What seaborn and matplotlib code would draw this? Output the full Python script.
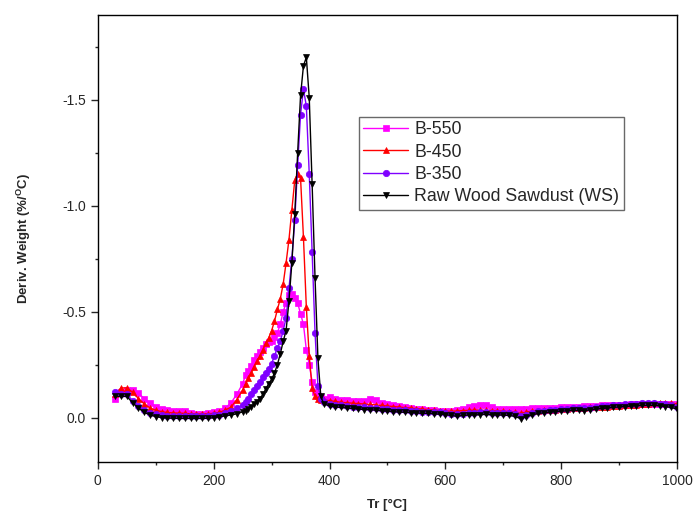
import numpy as np
import pandas as pd
import matplotlib
matplotlib.use("Agg")
import matplotlib.pyplot as plt
import seaborn as sns
from matplotlib.ticker import MultipleLocator

# Temperature grid (°C): coarse on the flat parts, finer around the peak
temp_low = [30, 40, 50, 60, 70, 80, 90, 100, 110, 120, 130, 140, 150, 160, 170,
            180, 190, 200, 210, 220, 230, 240, 250]
temp_mid = [255, 260, 265, 270, 275, 280, 285, 290, 295, 300, 305, 310, 315, 320,
            325, 330, 335, 340, 345, 350, 355, 360, 365, 370, 375, 380, 385, 390]
temp_high = [400, 410, 420, 430, 440, 450, 460, 470, 480, 490, 500, 510, 520, 530,
             540, 550, 560, 570, 580, 590, 600, 610, 620, 630, 640, 650, 660, 670,
             680, 690, 700, 710, 720, 730, 740, 750, 760, 770, 780, 790, 800, 810,
             820, 830, 840, 850, 860, 870, 880, 890, 900, 910, 920, 930, 940, 950,
             960, 970, 980, 990, 1000]
temperature = temp_low + temp_mid + temp_high

# DTG curves (%/°C)
b550 = [-0.09, -0.12, -0.13, -0.13, -0.115, -0.09, -0.07, -0.052, -0.042, -0.035,
        -0.032, -0.032, -0.03, -0.022, -0.017, -0.017, -0.02, -0.025, -0.032, -0.045,
        -0.07, -0.11, -0.16,
        -0.2, -0.22, -0.245, -0.27, -0.29, -0.31, -0.33, -0.345, -0.355, -0.36,
        -0.38, -0.4, -0.44, -0.5, -0.54, -0.58, -0.585, -0.565, -0.54, -0.49,
        -0.44, -0.32, -0.25, -0.17, -0.12, -0.1, -0.095, -0.09,
        -0.095, -0.09, -0.085, -0.082, -0.08, -0.078, -0.08, -0.088, -0.085, -0.07,
        -0.065, -0.06, -0.055, -0.05, -0.045, -0.042, -0.04, -0.038, -0.035, -0.032,
        -0.03, -0.032, -0.035, -0.04, -0.048, -0.055, -0.058, -0.058, -0.05, -0.042,
        -0.04, -0.04, -0.041, -0.04, -0.042, -0.043, -0.044, -0.045, -0.046, -0.047,
        -0.048, -0.05, -0.051, -0.052, -0.053, -0.054, -0.055, -0.057, -0.058, -0.059,
        -0.06, -0.061, -0.062, -0.063, -0.063, -0.064, -0.064, -0.065, -0.065, -0.064,
        -0.063]
b450 = [-0.11, -0.14, -0.14, -0.12, -0.09, -0.065, -0.045, -0.035, -0.028, -0.024,
        -0.022, -0.021, -0.02, -0.018, -0.017, -0.017, -0.018, -0.02, -0.025, -0.035,
        -0.05, -0.085, -0.13,
        -0.16, -0.185, -0.21, -0.24, -0.265, -0.29, -0.32, -0.35, -0.375, -0.41,
        -0.455, -0.51, -0.56, -0.63, -0.73, -0.84, -0.98, -1.12, -1.15, -1.13,
        -0.85, -0.52, -0.29, -0.14, -0.1, -0.09, -0.085, -0.082,
        -0.08, -0.076, -0.072, -0.07, -0.068, -0.066, -0.064, -0.062, -0.06, -0.057,
        -0.055, -0.052, -0.05, -0.047, -0.045, -0.042, -0.04, -0.038, -0.036, -0.033,
        -0.03, -0.03, -0.031, -0.033, -0.034, -0.035, -0.035, -0.034, -0.033, -0.031,
        -0.03, -0.028, -0.025, -0.02, -0.026, -0.03, -0.033, -0.035, -0.037, -0.038,
        -0.04, -0.042, -0.043, -0.045, -0.046, -0.048, -0.05, -0.051, -0.052, -0.054,
        -0.055, -0.057, -0.059, -0.061, -0.063, -0.065, -0.068, -0.07, -0.07, -0.068,
        -0.065]
b350 = [-0.12, -0.11, -0.11, -0.08, -0.055, -0.035, -0.022, -0.015, -0.01, -0.008,
        -0.007, -0.007, -0.007, -0.006, -0.006, -0.006, -0.007, -0.01, -0.014, -0.02,
        -0.03, -0.045, -0.06,
        -0.075, -0.09, -0.11, -0.13, -0.15, -0.17, -0.19, -0.21, -0.23, -0.255,
        -0.29, -0.33, -0.36, -0.41, -0.47, -0.61, -0.75, -0.93, -1.19, -1.43,
        -1.55, -1.47, -1.15, -0.78, -0.4, -0.15, -0.09, -0.075,
        -0.065, -0.06, -0.057, -0.054, -0.052, -0.05, -0.048, -0.046, -0.044, -0.042,
        -0.04, -0.038, -0.036, -0.034, -0.032, -0.03, -0.028, -0.027, -0.026, -0.024,
        -0.022, -0.018, -0.015, -0.018, -0.02, -0.022, -0.024, -0.025, -0.023, -0.022,
        -0.022, -0.02, -0.016, -0.008, -0.014, -0.022, -0.03, -0.032, -0.035, -0.038,
        -0.04, -0.042, -0.044, -0.044, -0.043, -0.046, -0.05, -0.053, -0.055, -0.058,
        -0.06, -0.062, -0.064, -0.066, -0.067, -0.068, -0.068, -0.066, -0.062, -0.058,
        -0.05]
raw_ws = [-0.1, -0.1, -0.1, -0.07, -0.045, -0.025, -0.012, -0.005, 0.0, 0.002,
          0.003, 0.004, 0.004, 0.004, 0.004, 0.004, 0.003, 0.001, -0.004, -0.008,
          -0.012, -0.018, -0.027,
          -0.03, -0.04, -0.05, -0.062, -0.075, -0.09, -0.11, -0.135, -0.16, -0.18,
          -0.21, -0.25, -0.3, -0.36, -0.41, -0.55, -0.73, -0.96, -1.25, -1.52,
          -1.66, -1.7, -1.51, -1.1, -0.66, -0.28, -0.1, -0.065,
          -0.055, -0.05, -0.048, -0.045, -0.043, -0.04, -0.038, -0.037, -0.035, -0.032,
          -0.03, -0.028, -0.026, -0.025, -0.023, -0.022, -0.02, -0.02, -0.018, -0.016,
          -0.014, -0.01, -0.006, -0.01, -0.012, -0.012, -0.014, -0.015, -0.013, -0.012,
          -0.012, -0.01, -0.006, 0.005, -0.004, -0.012, -0.02, -0.022, -0.025, -0.028,
          -0.03, -0.032, -0.034, -0.034, -0.033, -0.036, -0.04, -0.043, -0.045, -0.048,
          -0.05, -0.052, -0.054, -0.056, -0.057, -0.058, -0.058, -0.056, -0.052, -0.048,
          -0.04]

series_names = ["B-550", "B-450", "B-350", "Raw Wood Sawdust (WS)"]
series_values = [b550, b450, b350, raw_ws]
colors = ["#FF00FF", "#FF0000", "#7F00FF", "#000000"]
markers = ["s", "^", "o", "v"]

sns.set_style("ticks")
plt.rcParams["font.family"] = ["Liberation Sans", "DejaVu Sans"]
plt.rcParams["axes.unicode_minus"] = False
plt.rcParams["mathtext.fontset"] = "custom"
plt.rcParams["mathtext.rm"] = "Liberation Sans"
plt.rcParams["mathtext.bf"] = "Liberation Sans:bold"

fig = plt.figure(figsize=(6.94, 5.14), dpi=100)
ax = fig.add_axes([0.141, 0.101, 0.8345, 0.87])

for name, vals, c, m in zip(series_names, series_values, colors, markers):
    sns.lineplot(x=temperature, y=vals, ax=ax, color=c, marker=m, markersize=4.6,
                 markeredgecolor=c, markeredgewidth=0.5, linewidth=1.0,
                 label=name, errorbar=None)

ax.set_xlim(0, 1000)
ax.set_ylim(0.21, -1.9)
ax.xaxis.set_major_locator(MultipleLocator(200))
ax.xaxis.set_minor_locator(MultipleLocator(100))
ax.yaxis.set_major_locator(MultipleLocator(0.5))
ax.yaxis.set_minor_locator(MultipleLocator(0.25))
ax.tick_params(which="major", direction="out", length=5, width=1, labelsize=10,
               top=False, right=False)
ax.tick_params(which="minor", direction="out", length=2.5, width=1,
               top=False, right=False)
for s in ax.spines.values():
    s.set_visible(True)
    s.set_linewidth(1.0)
    s.set_color("black")

ax.set_xlabel("Tr [°C]", fontweight="bold", fontsize=9.5, labelpad=8)
ax.set_ylabel(r"Deriv. Weight (%/$^{\mathbf{O}}$C)", fontweight="bold", fontsize=9.5,
              labelpad=21)

leg = ax.legend(loc="upper left", bbox_to_anchor=(0.451, 0.772), fontsize=12.8,
                frameon=True, fancybox=False, borderpad=0.25, labelspacing=0.3,
                handlelength=2.5, handletextpad=0.35, borderaxespad=0)
leg.get_frame().set_edgecolor("#444444")
leg.get_frame().set_linewidth(1.0)

fig.savefig("out.png", dpi=100)
